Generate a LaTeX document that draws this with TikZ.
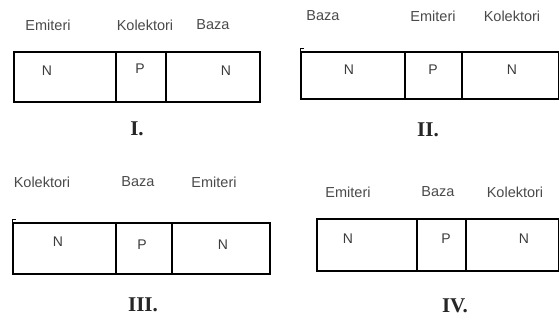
\documentclass[tikz,border=0pt]{standalone}
\usepackage{fontspec}
\setmainfont{Liberation Serif}
\setsansfont{Liberation Sans}
\usetikzlibrary{fit}
\definecolor{txtgray}{HTML}{4A4A4A}
\tikzset{
  cell/.style={draw=black, line width=1.6pt, inner sep=0pt},
  lbl/.style={font=\sffamily\fontsize{14.5}{15}\selectfont, text=txtgray, inner sep=0pt},
  lett/.style={font=\sffamily\fontsize{14}{15}\selectfont, text=txtgray!80!black, inner sep=0pt},
  num/.style={font=\rmfamily\bfseries\fontsize{21}{22}\selectfont, text=black!85, inner sep=0pt},
}
\begin{document}
\begin{tikzpicture}[x=1pt,y=-1pt]
\useasboundingbox (0,0) rectangle (560,320);
% ---------- I ----------
\node[lbl] (e1) at (48,25) {Emiteri};
\node[lbl] (k1) at (145,25) {Kolektori};
\node[lbl] (b1) at (213,25) {Baza};
\node[cell, fit={(14,52) (116,102)}] (c11) {};
\node[cell, fit={(116,52) (166,102)}] (c12) {};
\node[cell, fit={(166,52) (260,102)}] (c13) {};
\node[lett] (n11) at (47,71) {N};
\node[lett] (n12) at (140,69) {P};
\node[lett] (n13) at (226,71) {N};
\node[num] (r1) at (137,129) {I.};
% ---------- II ----------
\node[lbl] (b2) at (323,16) {Baza};
\node[lbl] (e2) at (433,16) {Emiteri};
\node[lbl] (k2) at (512,16) {Kolektori};
\node[cell, fit={(301,52) (405,99)}] (c21) {};
\node[cell, fit={(405,52) (462,99)}] (c22) {};
\node[cell, fit={(462,52) (558.5,99)}] (c23) {};
\draw[line width=1pt] (c21.north west) -- ++(0,-3) -- ++(4,0);
\node[lett] (n21) at (349,70) {N};
\node[lett] (n22) at (433,70) {P};
\node[lett] (n23) at (512,70) {N};
\node[num] (r2) at (428,130) {II.};
% ---------- III ----------
\node[lbl] (k3) at (42,182) {Kolektori};
\node[lbl] (b3) at (138,182) {Baza};
\node[lbl] (e3) at (214,182) {Emiteri};
\node[cell, fit={(13,223) (116,274)}] (c31) {};
\node[cell, fit={(116,223) (172,274)}] (c32) {};
\node[cell, fit={(172,223) (270,274)}] (c33) {};
\draw[line width=1pt] (c31.north west) -- ++(0,-3) -- ++(4,0);
\node[lett] (n31) at (58,242) {N};
\node[lett] (n32) at (142,245) {P};
\node[lett] (n33) at (223,245) {N};
\node[num] (r3) at (143,305) {III.};
% ---------- IV ----------
\node[lbl] (e4) at (348,192) {Emiteri};
\node[lbl] (b4) at (438,192) {Baza};
\node[lbl] (k4) at (515,192) {Kolektori};
\node[cell, fit={(317,219) (417,271)}] (c41) {};
\node[cell, fit={(417,219) (466,271)}] (c42) {};
\node[cell, fit={(466,219) (558.5,271)}] (c43) {};
\node[lett] (n41) at (348,239) {N};
\node[lett] (n42) at (446,239) {P};
\node[lett] (n43) at (524,239) {N};
\node[num] (r4) at (455,306) {IV.};
\end{tikzpicture}
\end{document}
